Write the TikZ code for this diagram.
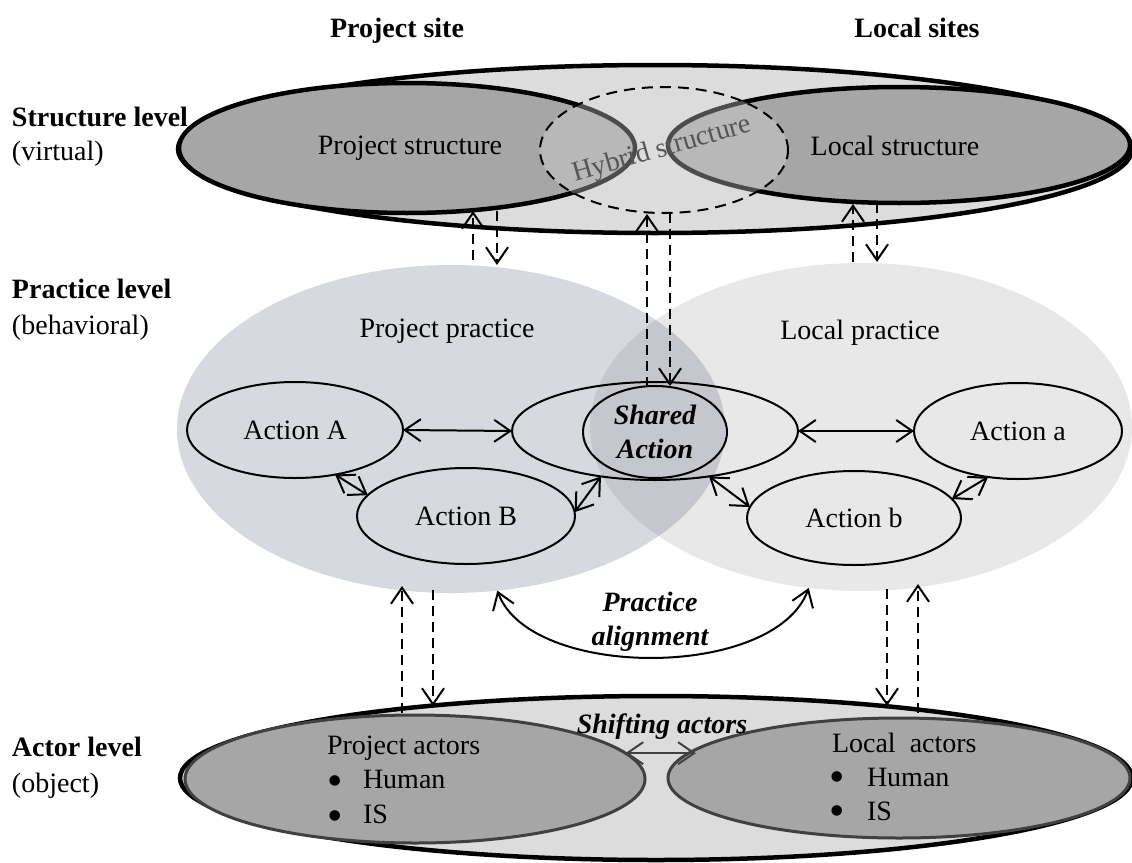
\documentclass[tikz,border=0pt]{standalone}
\usepackage{fontspec}
\setmainfont{Liberation Serif}
\usetikzlibrary{arrows.meta,shapes.geometric}

\definecolor{levelfill}{gray}{0.863}
\definecolor{sitefill}{gray}{0.651}
\definecolor{pracproj}{RGB}{214,217,222}
\definecolor{praclocal}{RGB}{232,232,232}
\definecolor{pracboth}{RGB}{197,199,204}
\definecolor{edgegray}{RGB}{64,64,64}
\definecolor{hybridtext}{RGB}{85,85,85}

\tikzset{
  levelbox/.style={ellipse, draw=black, line width=4.5pt, fill=levelfill},
  sitebox/.style={ellipse, draw=black, line width=4.5pt, fill=sitefill},
  actorbox/.style={ellipse, draw=edgegray, line width=3pt, fill=sitefill},
  actionbox/.style={ellipse, draw=black, line width=2pt},
  barb/.tip={Straight Barb[length=16pt,width=22pt]},
  link/.style={line width=2pt, barb-barb},
  flow/.style={line width=2pt, dash pattern=on 10pt off 6pt, -barb},
  sidelabel/.style={anchor=base west},
  dot/.style={font=\fontsize{44}{44}\selectfont},
  emph/.style={font=\fontsize{28}{34}\selectfont\bfseries\itshape, align=center},
}

\begin{document}
\begin{tikzpicture}[x=1pt, y=-1pt, font=\fontsize{28}{34}\selectfont,
  every node/.style={inner sep=0pt, outer sep=0pt}]
\useasboundingbox (0,0) rectangle (1132,862);

% column headings
\node[anchor=base, font=\fontsize{28}{34}\selectfont\bfseries] (hproj) at (397,37) {Project site};
\node[anchor=base, font=\fontsize{28}{34}\selectfont\bfseries] (hloc) at (917,37) {Local sites};

% level names
\node[sidelabel, font=\fontsize{28}{34}\selectfont\bfseries] (lvs) at (12,126) {Structure level};
\node[sidelabel] (lvs2) at (12,160) {(virtual)};
\node[sidelabel, font=\fontsize{28}{34}\selectfont\bfseries] (lvp) at (12,298) {Practice level};
\node[sidelabel] (lvp2) at (12,334) {(behavioral)};
\node[sidelabel, font=\fontsize{28}{34}\selectfont\bfseries] (lva) at (12,756) {Actor level};
\node[sidelabel] (lva2) at (12,792) {(object)};

% ---------------- structure level ----------------
\node[levelbox, minimum width=954pt, minimum height=168pt] (sl) at (655,149) {};
\node[sitebox, minimum width=456pt, minimum height=130pt] (ps) at (407,148) {};
\node[sitebox, minimum width=462pt, minimum height=116pt] (ls) at (899,145) {};
\node[ellipse, fill=levelfill, fill opacity=0.35, draw=black, line width=2pt,
      dash pattern=on 11pt off 7pt, minimum width=248pt, minimum height=126pt] (hy) at (664,150) {};
\node (pst) at (410,148) {Project structure};
\node (lst) at (895,146) {Local structure};
\node[text=hybridtext, rotate=16] (hyt) at (662,150) {Hybrid structure};

% ---------------- practice level ----------------
\node[ellipse, fill=pracproj, minimum width=548pt, minimum height=328pt] (pp) at (451,429) {};
\node[ellipse, fill=praclocal, minimum width=542pt, minimum height=328pt] (lp) at (861,427) {};
\begin{scope}
  \clip (451,429) ellipse [x radius=274pt, y radius=164pt];
  \fill[pracboth] (861,427) ellipse [x radius=271pt, y radius=164pt];
\end{scope}
\node (ppt) at (447,331) {Project practice};
\node (lpt) at (860,333) {Local practice};

\node[actionbox, minimum width=216pt, minimum height=96pt] (actA) at (295,430) {Action A};
\node[actionbox, minimum width=218pt, minimum height=96pt] (actB) at (466,516) {Action B};
\node[actionbox, minimum width=286pt, minimum height=98pt] (pair) at (655,431) {};
\node[actionbox, minimum width=144pt, minimum height=92pt, emph] (shared) at (655,432) {Shared\\Action};
\node[actionbox, minimum width=208pt, minimum height=96pt] (acta) at (1018,431) {Action a};
\node[actionbox, minimum width=214pt, minimum height=94pt] (actb) at (854,518) {Action b};

\draw[link] (actA.east) -- (pair.west);
\draw[link] (pair.east) -- (acta.west);
\draw[link] (actA.-48) -- (actB.168);
\draw[link] (actB.2) -- (pair.-140);
\draw[link] (pair.-40) -- (actb.174);
\draw[link] (acta.-123) -- (actb.11);

% practice alignment
\draw[link] (pp.-74) .. controls (530,680) and (775,680) .. (lp.-108);
\node[emph] (align) at (650,622) {Practice\\alignment};

% ---------------- actor level ----------------
\node[levelbox, minimum width=952pt, minimum height=164pt] (al) at (656,778) {};
\node[actorbox, minimum width=460pt, minimum height=128pt] (pa) at (415,779) {};
\node[actorbox, minimum width=462pt, minimum height=120pt] (la) at (899,778) {};
\node[emph, anchor=base] (shift) at (662,733) {Shifting actors};
\draw[line width=2pt, draw=edgegray, barb-barb] (pa.7.6) -- (la.172.8 |- pa.7.6);

\node[anchor=base west] (pat) at (327,754) {Project actors};
\node[dot] (pab1) at (335,786) {•};
\node[anchor=base west] (pah) at (363,788) {Human};
\node[dot] (pab2) at (335,821) {•};
\node[anchor=base west] (pai) at (363,823) {IS};

\node[anchor=base west] (lat) at (832,752) {Local\ \ actors};
\node[dot] (lab1) at (837,782) {•};
\node[anchor=base west] (lah) at (867,786) {Human};
\node[dot] (lab2) at (837,816) {•};
\node[anchor=base west] (lai) at (867,820) {IS};

% ---------------- links between levels ----------------
\coordinate (ppTopL) at (473,260);
\coordinate (psBotL) at (473,211);
\coordinate (psBotR) at (497,211);
\coordinate (ppTopR) at (497,265);
\draw[flow] (ppTopL) -- (psBotL);
\draw[flow] (psBotR) -- (ppTopR);

\coordinate (shTopL) at (647,387);
\coordinate (hyBotL) at (647,214);
\coordinate (hyBotR) at (670,213);
\coordinate (shTopR) at (670,386);
\draw[flow] (shTopL) -- (hyBotL);
\draw[flow] (hyBotR) -- (shTopR);

\coordinate (lpTopL) at (853,262);
\coordinate (lsBotL) at (853,204);
\coordinate (lsBotR) at (877,203);
\coordinate (lpTopR) at (877,262);
\draw[flow] (lpTopL) -- (lsBotL);
\draw[flow] (lsBotR) -- (lpTopR);

\coordinate (alTopL) at (402,713);
\coordinate (ppBotL) at (402,586);
\coordinate (ppBotR) at (433,590);
\coordinate (alTopR) at (433,706);
\draw[flow] (alTopL) -- (ppBotL);
\draw[flow] (ppBotR) -- (alTopR);

\coordinate (lpBotL) at (887,589);
\coordinate (alTopL2) at (887,706);
\coordinate (alTopR2) at (918,713);
\coordinate (lpBotR) at (918,584);
\draw[flow] (lpBotL) -- (alTopL2);
\draw[flow] (alTopR2) -- (lpBotR);
\end{tikzpicture}
\end{document}
